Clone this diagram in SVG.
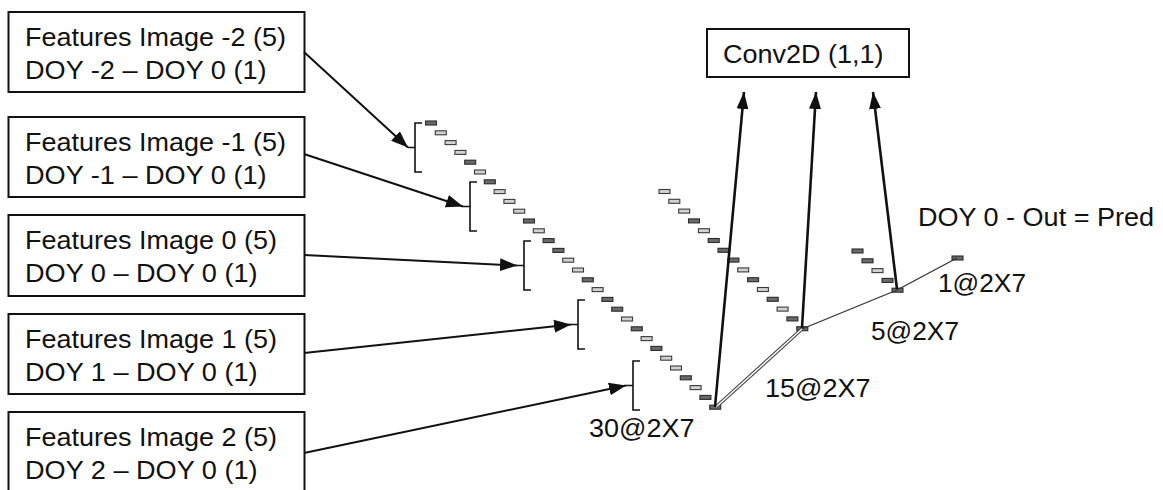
<svg xmlns="http://www.w3.org/2000/svg" width="1163" height="490" viewBox="0 0 1163 490">
<style>
  text { font-family: "Liberation Sans", Arial, sans-serif; font-size: 25px; fill: #111; }
  .box { fill: #fff; stroke: #111; stroke-width: 2; }
  .d { fill: #6a6a6a; stroke: #2a2a2a; stroke-width: 1.1; }
  .l { fill: #d2d2d2; stroke: #3a3a3a; stroke-width: 1.1; }
  .br { fill: none; stroke: #111; stroke-width: 1.6; }
  .arr { fill: none; stroke: #111; stroke-width: 2; marker-end: url(#ah); }
  .up { fill: none; stroke: #111; stroke-width: 2.6; marker-end: url(#ah2); }
  .dblo { fill: none; stroke: #444; stroke-width: 3.6; }
  .dbli { fill: none; stroke: #fff; stroke-width: 1.4; }
  .thin { fill: none; stroke: #333; stroke-width: 1.3; }
</style>
<defs>
  <marker id="ah" markerUnits="userSpaceOnUse" markerWidth="18" markerHeight="14" refX="17" refY="7" orient="auto">
    <path d="M0,0.5 L17,7 L0,13.5 Z" fill="#111"/>
  </marker>
  <marker id="ah2" markerUnits="userSpaceOnUse" markerWidth="18" markerHeight="14" refX="17" refY="7" orient="auto">
    <path d="M0,1 L17,7 L0,13 Z" fill="#111"/>
  </marker>
</defs>
<rect width="1163" height="490" fill="#fff"/>

<g id="box-m2">
  <rect class="box" x="8.5" y="12" width="296" height="80"/>
  <text x="25" y="46" textLength="261" lengthAdjust="spacingAndGlyphs">Features Image -2 (5)</text>
  <text x="25" y="79" textLength="241.6" lengthAdjust="spacingAndGlyphs">DOY -2 – DOY 0 (1)</text>
</g>
<g id="box-m1">
  <rect class="box" x="8.5" y="117" width="296" height="80"/>
  <text x="25" y="151" textLength="261" lengthAdjust="spacingAndGlyphs">Features Image -1 (5)</text>
  <text x="25" y="184" textLength="241.6" lengthAdjust="spacingAndGlyphs">DOY -1 – DOY 0 (1)</text>
</g>
<g id="box-0">
  <rect class="box" x="8.5" y="215" width="296" height="81"/>
  <text x="25" y="249" textLength="252" lengthAdjust="spacingAndGlyphs">Features Image 0 (5)</text>
  <text x="25" y="282" textLength="232.6" lengthAdjust="spacingAndGlyphs">DOY 0 – DOY 0 (1)</text>
</g>
<g id="box-1">
  <rect class="box" x="8.5" y="314" width="296" height="80"/>
  <text x="25" y="348" textLength="252" lengthAdjust="spacingAndGlyphs">Features Image 1 (5)</text>
  <text x="25" y="381" textLength="232.6" lengthAdjust="spacingAndGlyphs">DOY 1 – DOY 0 (1)</text>
</g>
<g id="box-2">
  <rect class="box" x="8.5" y="412" width="296" height="84"/>
  <text x="25" y="446" textLength="252" lengthAdjust="spacingAndGlyphs">Features Image 2 (5)</text>
  <text x="25" y="479" textLength="232.6" lengthAdjust="spacingAndGlyphs">DOY 2 – DOY 0 (1)</text>
</g>

<g id="conv2d">
  <rect class="box" x="707" y="29" width="202" height="48"/>
  <text x="723" y="63" textLength="160.5" lengthAdjust="spacingAndGlyphs">Conv2D (1,1)</text>
</g>

<g id="layer30">
  <rect class="d" x="425.5" y="121" width="11" height="4"/>
  <rect class="l" x="435.3" y="130.8" width="11" height="4"/>
  <rect class="l" x="445.1" y="140.6" width="11" height="4"/>
  <rect class="l" x="454.9" y="150.4" width="11" height="4"/>
  <rect class="d" x="464.7" y="160.2" width="11" height="4"/>
  <rect class="l" x="474.5" y="170" width="11" height="4"/>
  <rect class="d" x="484.3" y="179.8" width="11" height="4"/>
  <rect class="l" x="494.1" y="189.6" width="11" height="4"/>
  <rect class="l" x="503.9" y="199.4" width="11" height="4"/>
  <rect class="l" x="513.7" y="209.2" width="11" height="4"/>
  <rect class="d" x="523.5" y="219" width="11" height="4"/>
  <rect class="l" x="533.3" y="228.8" width="11" height="4"/>
  <rect class="d" x="543.1" y="238.6" width="11" height="4"/>
  <rect class="d" x="552.9" y="248.4" width="11" height="4"/>
  <rect class="l" x="562.7" y="258.2" width="11" height="4"/>
  <rect class="l" x="572.5" y="268" width="11" height="4"/>
  <rect class="d" x="582.3" y="277.8" width="11" height="4"/>
  <rect class="l" x="592.1" y="287.6" width="11" height="4"/>
  <rect class="d" x="601.9" y="297.4" width="11" height="4"/>
  <rect class="d" x="611.7" y="307.2" width="11" height="4"/>
  <rect class="l" x="621.5" y="317" width="11" height="4"/>
  <rect class="d" x="631.3" y="326.8" width="11" height="4"/>
  <rect class="l" x="641.1" y="336.6" width="11" height="4"/>
  <rect class="d" x="650.9" y="346.4" width="11" height="4"/>
  <rect class="l" x="660.7" y="356.2" width="11" height="4"/>
  <rect class="l" x="670.5" y="366" width="11" height="4"/>
  <rect class="d" x="680.3" y="375.8" width="11" height="4"/>
  <rect class="l" x="690.1" y="385.6" width="11" height="4"/>
  <rect class="d" x="699.9" y="395.4" width="11" height="4"/>
  <rect class="d" x="709.7" y="405.2" width="11" height="4"/>
  <text x="589" y="437" textLength="105.5" lengthAdjust="spacingAndGlyphs">30@2X7</text>
</g>

<g id="layer15">
  <rect class="l" x="659" y="189.5" width="11" height="4"/>
  <rect class="l" x="668.8" y="199.3" width="11" height="4"/>
  <rect class="l" x="678.7" y="209.1" width="11" height="4"/>
  <rect class="d" x="688.5" y="218.9" width="11" height="4"/>
  <rect class="l" x="698.4" y="228.7" width="11" height="4"/>
  <rect class="d" x="708.2" y="238.5" width="11" height="4"/>
  <rect class="d" x="718" y="248.3" width="11" height="4"/>
  <rect class="d" x="727.9" y="258.1" width="11" height="4"/>
  <rect class="l" x="737.7" y="267.9" width="11" height="4"/>
  <rect class="d" x="747.6" y="277.7" width="11" height="4"/>
  <rect class="l" x="757.4" y="287.5" width="11" height="4"/>
  <rect class="d" x="767.2" y="297.3" width="11" height="4"/>
  <rect class="l" x="777.1" y="307.1" width="11" height="4"/>
  <rect class="d" x="786.9" y="316.9" width="11" height="4"/>
  <rect class="d" x="796.8" y="326.7" width="11" height="4"/>
  <text x="765" y="397" textLength="105.5" lengthAdjust="spacingAndGlyphs">15@2X7</text>
</g>

<g id="layer5">
  <rect class="d" x="852" y="249" width="11" height="4"/>
  <rect class="d" x="862" y="258.8" width="11" height="4"/>
  <rect class="l" x="872" y="268.6" width="11" height="4"/>
  <rect class="d" x="882" y="278.4" width="11" height="4"/>
  <rect class="d" x="892" y="288.2" width="11" height="4"/>
  <text x="871" y="340" textLength="88" lengthAdjust="spacingAndGlyphs">5@2X7</text>
</g>

<g id="layer1">
  <rect class="d" x="952" y="256" width="11" height="4"/>
  <text x="938" y="292" textLength="88" lengthAdjust="spacingAndGlyphs">1@2X7</text>
  <text x="918" y="226" textLength="236" lengthAdjust="spacingAndGlyphs">DOY 0 - Out = Pred</text>
</g>

<g id="connectors">
  <path class="br" d="M422,123 H415 V172 H422 M415,147.5 H408"/>
  <path class="br" d="M477,182 H470 V231 H477 M470,206.5 H463"/>
  <path class="br" d="M531,241 H524 V290 H531 M524,265.5 H517"/>
  <path class="br" d="M585,300 H578 V349 H585 M578,324.5 H571"/>
  <path class="br" d="M640,361 H633 V410 H640 M633,385.5 H626"/>

  <line class="arr" x1="304" y1="52" x2="408" y2="147.5"/>
  <line class="arr" x1="304" y1="154" x2="463" y2="206.5"/>
  <line class="arr" x1="304" y1="255" x2="517" y2="265.5"/>
  <line class="arr" x1="304" y1="353" x2="571" y2="324.5"/>
  <line class="arr" x1="304" y1="453" x2="626" y2="385.5"/>

  <path class="dblo" d="M716,407 L802,329"/>
  <path class="dbli" d="M716,407 L802,329"/>
  <line class="thin" x1="802" y1="329" x2="897" y2="290"/>
  <line class="thin" x1="897" y1="290" x2="957" y2="258"/>

  <line class="up" x1="715" y1="407" x2="744" y2="92"/>
  <line class="up" x1="802" y1="328" x2="816" y2="92"/>
  <line class="up" x1="897" y1="289" x2="873" y2="92"/>
</g>
</svg>
